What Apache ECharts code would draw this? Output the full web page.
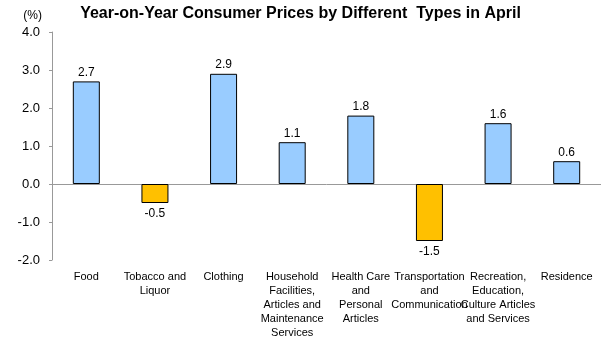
<!DOCTYPE html>
<html><head><meta charset="utf-8">
<script src="https://cdn.jsdelivr.net/npm/echarts@6/dist/echarts.min.js"></script>
<style>html,body{margin:0;padding:0;background:#fff}#c{width:601px;height:346px}</style>
</head><body><div id="c"></div>
<script>
var categories = ["Food","Tobacco and\nLiquor","Clothing","Household\nFacilities,\nArticles and\nMaintenance\nServices","Health Care\nand\nPersonal\nArticles","Transportation\nand\nCommunication","Recreation,\nEducation,\nCulture Articles\nand Services","Residence"];
var values = [2.7,-0.5,2.9,1.1,1.8,-1.5,1.6,0.6];
var yTicks = [-2.0,-1.0,0.0,1.0,2.0,3.0,4.0];
var chart = echarts.init(document.getElementById('c'));
var font = 'Arial, "Liberation Sans", sans-serif';
chart.setOption({
  animation:false,
  title:{text:'Year-on-Year Consumer Prices by Different  Types in April',left:'center',top:1,
    textStyle:{fontFamily:font,fontSize:16,fontWeight:'bold',color:'#000'}},
  grid:{left:52,right:0,top:32,bottom:86},
  xAxis:[{type:'category',data:categories,axisLine:{onZero:true,lineStyle:{color:'#999'}},axisTick:{show:false},axisLabel:{show:false}},
    {type:'category',data:categories,position:'bottom',axisLine:{show:false,onZero:false},axisTick:{show:false},
     axisLabel:{interval:0,margin:10,fontFamily:font,fontSize:11,color:'#000',lineHeight:14}}],
  yAxis:{type:'value',min:yTicks[0],max:yTicks[yTicks.length-1],interval:1,
    name:'(%)',nameLocation:'end',nameGap:10,nameTextStyle:{fontFamily:font,fontSize:12,color:'#000',align:'right',padding:[0,10,0,0]},
    axisLine:{show:true,lineStyle:{color:'#999'}},axisTick:{show:true,length:3,lineStyle:{color:'#999'}},
    splitLine:{show:false},
    axisLabel:{fontFamily:font,fontSize:13,color:'#000',margin:12,formatter:function(v){return v.toFixed(1);}}},
  series:[{type:'bar',xAxisIndex:0,barWidth:27,
    data:values.map(function(v){return {value:v,itemStyle:{color:v<0?'#FFC000':'#99CCFF'},
      label:{position:v<0?'bottom':'top',distance:v<0?5:3}};}),
    itemStyle:{borderColor:'#000',borderWidth:1},
    label:{show:true,fontFamily:font,fontSize:12,color:'#000',formatter:function(p){return p.value.toFixed(1);}}}]
});
</script></body></html>
